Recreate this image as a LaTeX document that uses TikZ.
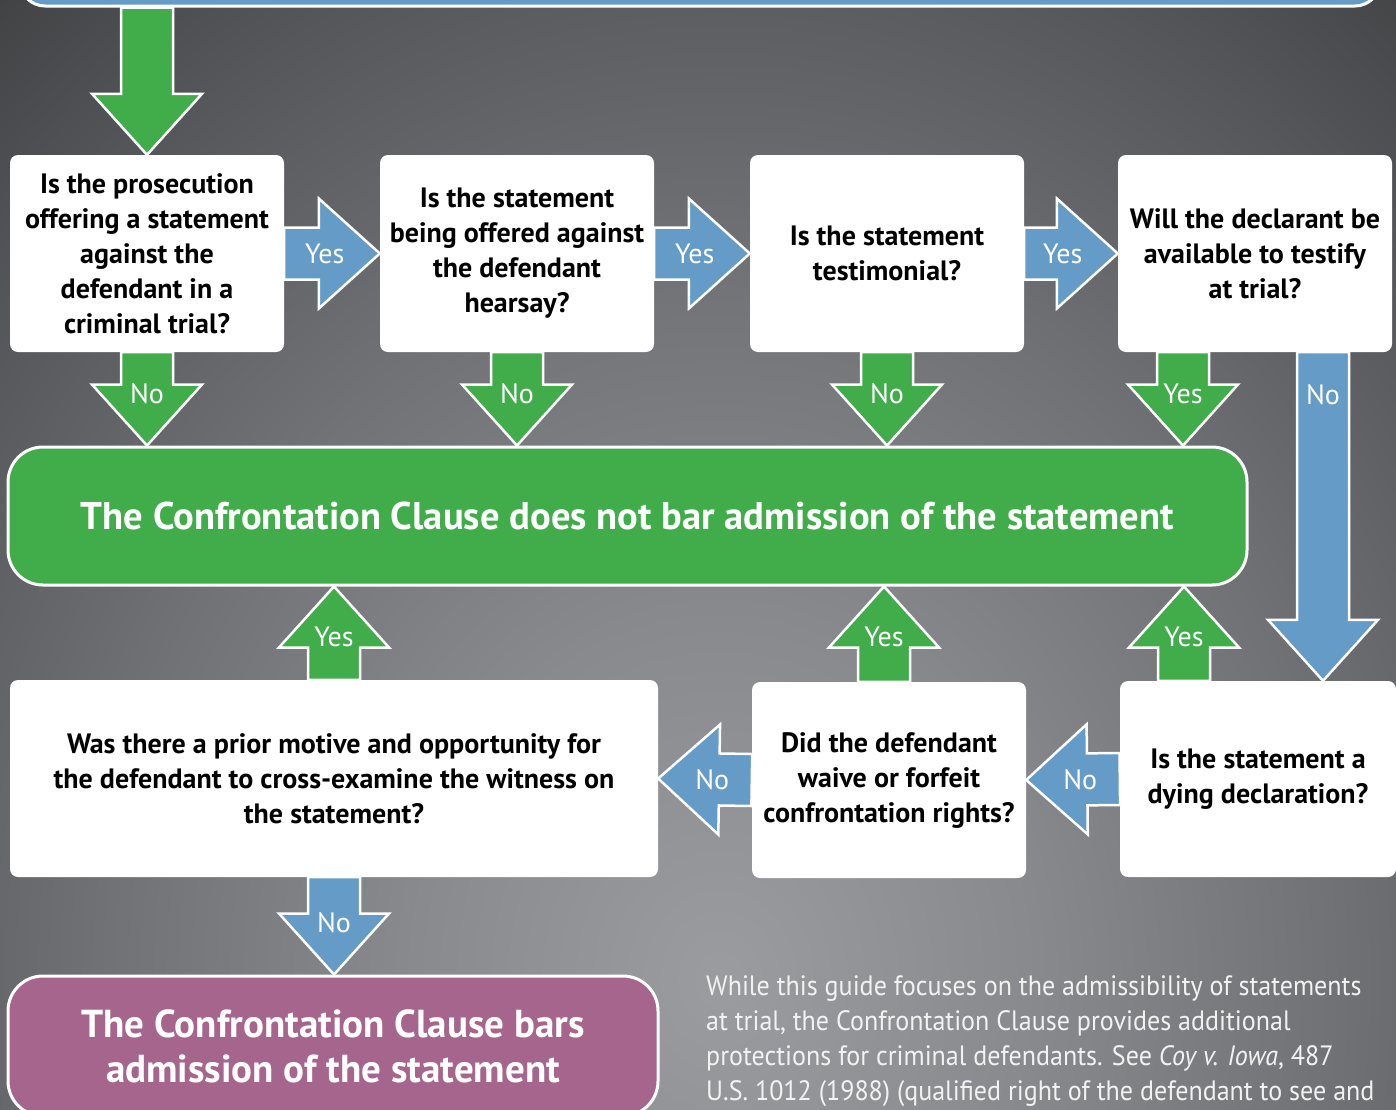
\documentclass[tikz,border=0pt]{standalone}
\usepackage{fontspec}
\setmainfont{PT Sans}
\newfontfamily\notefont{PT Sans}[FakeStretch=0.93]
\usetikzlibrary{positioning,calc}
\definecolor{flowgreen}{RGB}{64,173,74}
\definecolor{flowblue}{RGB}{101,155,199}
\definecolor{flowpurple}{RGB}{166,101,140}
\definecolor{bgA}{RGB}{155,156,160}
\definecolor{bgB}{RGB}{137,138,142}
\definecolor{bgC}{RGB}{113,114,118}
\definecolor{bgD}{RGB}{85,86,89}
\definecolor{bgE}{RGB}{55,55,58}
\definecolor{notegray}{RGB}{242,242,242}
\pgfdeclareradialshading{bgglow}{\pgfpoint{0bp}{0bp}}{color(0bp)=(bgA); color(6.25bp)=(bgB);
  color(12.5bp)=(bgC); color(18.75bp)=(bgD); color(25bp)=(bgE); color(50bp)=(bgE)}
\tikzset{
  qbox/.style={rectangle, rounded corners=8, fill=white, text=black, inner sep=0pt,
    align=center, font=\fontsize{28}{35}\selectfont\bfseries},
  endbox/.style={rectangle, rounded corners=35, draw=white, line width=3, inner sep=0pt,
    align=center, text=white},
  arrowline/.style={draw=white, line width=2.5, line join=miter},
  arrowlabel/.style={text=white, inner sep=0pt, font=\fontsize{28}{34}\selectfont}
}
% block arrow: [colour] from, tip, label distance from tip, label
\newcommand{\flowarrow}[5][flowblue]{%
  \draw[arrowline, fill=#1] let \p1=(#2), \p2=(#3), \n1={atan2(\y2-\y1,\x2-\x1)} in
    ($(\p1)+(\n1+90:26)$) -- ($(\p2)+(\n1+180:61)+(\n1+90:26)$)
    -- ($(\p2)+(\n1+180:61)+(\n1+90:55)$) -- (\p2)
    -- ($(\p2)+(\n1+180:61)+(\n1-90:55)$) -- ($(\p2)+(\n1+180:61)+(\n1-90:26)$)
    -- ($(\p1)+(\n1-90:26)$) -- cycle
    ($(\p2)+(\n1+180:#4)$) node[arrowlabel] {#5};}
\begin{document}
\begin{tikzpicture}[x=1pt,y=1pt]
  \useasboundingbox (0,0) rectangle (1396,-1109);
  \clip (0,0) rectangle (1396,-1109);
  % background
  \fill[bgE] (0,0) rectangle (1396,-1109);
  \shade[shading=bgglow] (720,-980) ellipse [x radius=1223, y radius=1433];

  % boxes
  \node[endbox, fill=flowblue, rounded corners=25, minimum width=1360, minimum height=60] (start) at (700,24) {};
  \node[qbox, minimum width=274, minimum height=197] (q1) at (147,-253.5)
    {Is the prosecution\\offering a statement\\against the\\defendant in a\\criminal trial?};
  \node[qbox, minimum width=274, minimum height=197] (q2) at (517,-253.5)
    {Is the statement\\being offered against\\the defendant\\hearsay?};
  \node[qbox, minimum width=274, minimum height=197] (q3) at (887,-253.5)
    {Is the statement\\testimonial?};
  \node[qbox, minimum width=274, minimum height=197] (q4) at (1255,-253.5)
    {Will the declarant be\\available to testify\\at trial?};
  \node[endbox, fill=flowgreen, minimum width=1239, minimum height=138,
    font=\fontsize{38.6}{47}\selectfont\bfseries] (ok) at (627.5,-516)
    {The Confrontation Clause does not bar admission of the statement};
  \node[qbox, minimum width=648, minimum height=197] (pA) at (334,-778.5)
    {Was there a prior motive and opportunity for\\the defendant to cross-examine the witness on\\the statement?};
  \node[qbox, minimum width=274, minimum height=196] (pB) at (889,-780)
    {Did the defendant\\waive or forfeit\\confrontation rights?};
  \node[qbox, minimum width=276, minimum height=196] (pC) at (1258,-779)
    {Is the statement a\\dying declaration?};
  \node[endbox, fill=flowpurple, minimum width=650, minimum height=140,
    font=\fontsize{39}{45}\selectfont\bfseries] (bar) at (333,-1046)
    {The Confrontation Clause bars\\admission of the statement};
  \node[anchor=north west, inner sep=0pt, align=left, text=notegray,
    font=\notefont\fontsize{28}{35}\selectfont] (note) at (706,-975)
    {While this guide focuses on the admissibility of statements\\
     at trial, the Confrontation Clause provides additional\\
     protections for criminal defendants. See \textit{Coy v. Iowa}, 487\\
     U.S. 1012 (1988) (qualified right of the defendant to see and};

  % connectors
  \coordinate (q4yes) at ($(q4.south)+(-72,0)$);
  \coordinate (q4no) at ($(q4.south)+(68,0)$);
  \coordinate (pByes) at ($(pB.north)+(-5,0)$);
  \coordinate (pCyes) at ($(pC.north)+(-74,0)$);
  \flowarrow[flowgreen]{q1.north |- start.south}{q1.north}{52}{}
  \flowarrow{q1.east}{q2.west}{55}{Yes}
  \flowarrow{q2.east}{q3.west}{55}{Yes}
  \flowarrow{q3.east}{q4.west}{55}{Yes}
  \flowarrow[flowgreen]{q1.south}{q1.south |- ok.north}{52}{No}
  \flowarrow[flowgreen]{q2.south}{q2.south |- ok.north}{52}{No}
  \flowarrow[flowgreen]{q3.south}{q3.south |- ok.north}{52}{No}
  \flowarrow[flowgreen]{q4yes}{q4yes |- ok.north}{52}{Yes}
  \flowarrow{q4no}{q4no |- pC.north}{286}{No}
  \flowarrow[flowgreen]{pA.north}{pA.north |- ok.south}{50}{Yes}
  \flowarrow[flowgreen]{pByes}{pByes |- ok.south}{50}{Yes}
  \flowarrow[flowgreen]{pCyes}{pCyes |- ok.south}{50}{Yes}
  \flowarrow{pC.west}{pB.east}{54}{No}
  \flowarrow{pB.west}{pA.east}{54}{No}
  \flowarrow{pA.south}{pA.south |- bar.north}{52}{No}
\end{tikzpicture}
\end{document}
